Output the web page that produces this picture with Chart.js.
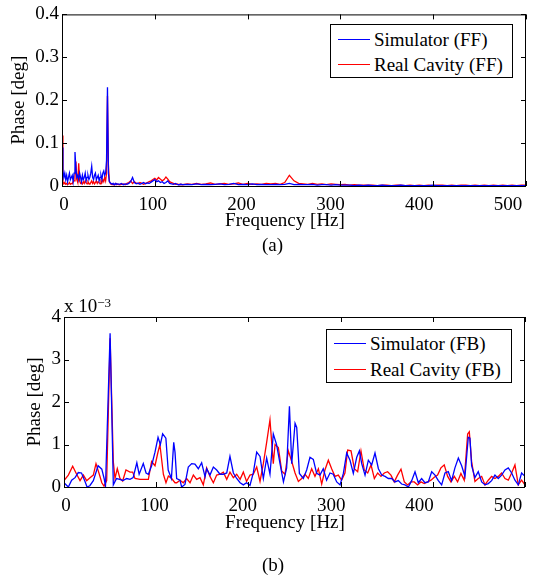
<!DOCTYPE html>
<html>
<head>
<meta charset="utf-8">
<script src="https://cdn.jsdelivr.net/npm/chart.js@4.4.0/dist/chart.umd.min.js"></script>
<style>
  body { margin: 0; background: #fff; font-family: 'Liberation Serif', 'Times New Roman', serif; color: #000; }
  #page { position: relative; width: 539px; height: 580px; overflow: hidden; }
  canvas { position: absolute; left: 0; }
  .caption { position: absolute; font-size: 19px; line-height: 22px; }
  .xtitle { position: absolute; left: 185px; width: 200px; text-align: center; font-size: 19px; line-height: 22px; }
  .legend { position: absolute; border: 1px solid #000; background: #fff; font-size: 19px; }
  .legend .row { position: absolute; left: 0; height: 22px; line-height: 22px; white-space: nowrap; }
  .legend .swatch { position: absolute; left: 7px; top: 10px; width: 32px; height: 1.3px; }
  .legend .label { position: absolute; left: 43px; top: 0; }
  .expo { position: absolute; font-size: 19px; line-height: 22px; white-space: nowrap; }
  .expo sup { font-size: 13px; position: relative; top: -3px; vertical-align: top; }
</style>
</head>
<body>
<div id="page">
  <canvas id="chartFF" width="539" height="232" style="top:0"></canvas>
  <canvas id="chartFB" width="539" height="232" style="top:300px"></canvas>

  <div class="legend" style="left:330px; top:24px; width:181px; height:52px;">
    <div class="row" style="top:4px"><span class="swatch" style="background:#0000ff"></span><span class="label">Simulator (FF)</span></div>
    <div class="row" style="top:29px"><span class="swatch" style="background:#ff0000"></span><span class="label">Real Cavity (FF)</span></div>
  </div>
  <div class="xtitle" style="top:209px;">Frequency [Hz]</div>
  <div class="caption" style="left:262px; top:234px;">(a)</div>

  <div class="expo" style="left:64px; top:295px;">x 10<sup>&minus;3</sup></div>
  <div class="legend" style="left:326px; top:329px; width:184px; height:52px;">
    <div class="row" style="top:3px"><span class="swatch" style="background:#0000ff"></span><span class="label">Simulator (FB)</span></div>
    <div class="row" style="top:29px"><span class="swatch" style="background:#ff0000"></span><span class="label">Real Cavity (FB)</span></div>
  </div>
  <div class="xtitle" style="top:511px;">Frequency [Hz]</div>
  <div class="caption" style="left:262px; top:554px;">(b)</div>
</div>

<script>
// --- (a) feed-forward phase spectrum ---
const freqFF = [
  0,1,2,3,4,5,6,7,8,9,10,11,12,13,14,15,16,17,18,19,20,21,22,23,24,25,26,27,28,29,
  30,31,32,33,34,35,36,37,38,39,40,41,42,43,44,45,46,47,48,49,50,51,52,53,54,55,56,57,58,59,60,
  62,64,66,68,70,72,74,76,78,80,82,84,86,88,90,92,94,96,98,100,102,104,106,108,110,112,114,116,118,120,
  122,124,126,128,130,
  135,140,145,150,155,160,165,170,175,180,185,190,195,200,205,210,215,220,225,230,235,240,245,250,255,
  260,265,270,275,280,285,290,295,300,305,310,315,320,325,330,335,340,345,350,355,360,365,370,375,380,
  385,390,395,400,405,410,415,420,425,430,435,440,445,450,455,460,465,470,475,480,485,490,495,500
];
const simFF = [
  0.09,0.035,0.02,0.03,0.015,0.025,0.01,0.02,0.03,0.015,
  0.02,0.025,0.01,0.03,0.079,0.04,0.02,0.025,0.015,0.03,
  0.02,0.01,0.025,0.015,0.02,0.03,0.012,0.02,0.025,0.015,
  0.02,0.03,0.046,0.02,0.015,0.025,0.03,0.015,0.02,0.025,
  0.012,0.02,0.025,0.015,0.03,0.035,0.025,0.03,0.06,0.23,
  0.03,0.01,0.008,0.005,0.006,0.004,0.005,0.003,0.006,0.004,
  0.005,
  0.004,0.006,0.003,0.005,0.004,0.006,0.01,0.02,0.008,0.005,
  0.007,0.004,0.006,0.008,0.005,0.007,0.006,0.009,0.012,0.015,
  0.01,0.012,0.008,0.01,0.006,0.008,0.012,0.006,0.005,0.004,
  0.006,0.004,0.003,0.004,0.003,
  0.004,0.003,0.005,0.003,0.004,0.003,0.004,0.005,0.003,0.004,
  0.006,0.003,0.004,0.003,0.005,0.003,0.004,0.003,0.003,0.004,
  0.003,0.004,0.006,0.003,0.004,0.003,0.003,0.004,0.002,0.003,
  0.003,0.002,0.003,0.002,0.002,0.002,0.001,0.002,0.001,0.002,
  0.001,0.001,0.002,0.001,0.001,0.001,0.002,0.001,0.001,0.001,
  0.001,0.001,0.001,0.002,0.001,0.001,0.001,0.001,0.001,0.001,
  0.001,0.001,0.001,0.001,0.001,0.001,0.001,0.001,0.001,0.001,
  0.001,0.001,0.001,0.001
];
const realFF = [
  0.118,0.01,0.005,0.008,0.004,0.006,0.003,0.005,0.008,0.004,
  0.006,0.005,0.01,0.012,0.02,0.057,0.015,0.008,0.053,0.012,
  0.006,0.008,0.005,0.01,0.006,0.012,0.008,0.005,0.01,0.006,
  0.004,0.008,0.012,0.006,0.01,0.005,0.008,0.012,0.006,0.01,
  0.008,0.005,0.012,0.008,0.015,0.01,0.02,0.012,0.03,0.21,
  0.05,0.012,0.006,0.004,0.003,0.005,0.003,0.004,0.006,0.003,
  0.004,
  0.003,0.004,0.005,0.003,0.006,0.008,0.012,0.006,0.01,0.007,
  0.005,0.008,0.006,0.004,0.006,0.008,0.01,0.012,0.015,0.018,
  0.014,0.02,0.016,0.012,0.015,0.021,0.016,0.01,0.008,0.006,
  0.004,0.005,0.003,0.004,0.003,
  0.005,0.004,0.006,0.004,0.005,0.007,0.004,0.005,0.006,0.004,
  0.005,0.007,0.004,0.006,0.004,0.005,0.004,0.006,0.005,0.006,
  0.004,0.008,0.025,0.012,0.006,0.005,0.004,0.006,0.004,0.005,
  0.003,0.005,0.004,0.003,0.004,0.002,0.003,0.002,0.002,0.002,
  0.002,0.001,0.002,0.002,0.001,0.002,0.002,0.001,0.002,0.001,
  0.002,0.001,0.002,0.001,0.002,0.002,0.001,0.002,0.001,0.002,
  0.002,0.001,0.002,0.001,0.002,0.001,0.002,0.001,0.002,0.001,
  0.002,0.001,0.002,0.002
];

// --- (b) feedback phase spectrum, values in units of 1e-3 deg ---
const simFreqFB = [
  0,4.7,8.3,12,15.5,19,22.8,25,28,31.8,37,41,43.5,45,50,53.5,57,60.5,64,68,
  71.6,75,79,81.5,86,89,91.5,95,98.7,102,104.5,107,110.5,113,116.5,119,120.4,122.2,125.8,127.6,
  131.2,134.8,138.5,142,145.7,149.3,153,154.7,158.3,162,165.6,169.2,172.8,176.5,180,183.7,187.3,191,194.5,198,
  201.7,205.3,209,212.6,216.2,219.8,223.4,227,230.5,234.3,238,241.5,244.5,247,250.6,252.4,255.3,259.6,263.2,266.8,
  270.4,274,277.6,281.2,284.8,288.5,292,295.8,299.4,303,306.6,310.2,313.8,317.5,320.4,322.9,326.5,330.1,333.7,337.3,
  341,344.6,348.2,351.8,355.4,359,362.6,366.2,369.8,373.5,377.1,380.7,384.3,387.9,391.5,395.1,398.8,402.4,406,409.6,
  413.2,416.8,420.4,424,427.7,431.3,434.9,438.5,440.3,442.1,445.7,449.3,453,456.6,460.2,463.8,467.4,471,474.6,478.3,
  481.9,485.5,489.1,492.7,496.3,500
];
const simFB = [
  0.1,0,0.16,0.22,0.34,0.33,0.13,0,0.03,0.15,0.5,0.42,0.2,0.02,3.62,0.05,0.2,0.18,0.15,0.2,
  0.18,0.22,0.57,0.3,0.55,0.33,0.3,0.5,0.82,1.17,1.0,1.25,1.15,0.4,0.2,1.05,0.82,0.2,0.16,0,
  0.06,0.47,0.55,0.54,0.43,0.57,0.24,0.43,0.28,0.47,0.4,0.3,0.3,0.33,0.72,0.33,0.2,0.1,0.05,0.1,
  0.04,0.33,0.82,0.72,0.2,0.68,0.3,1.25,1.0,0.55,0.12,0.45,1.9,0.55,1.5,1.4,0.32,0.2,0.4,0.7,
  0.65,0.32,0.28,0.43,0.16,0.33,0.3,0.12,0.05,0.32,0.8,0.63,0.32,0.7,0.85,0.55,0.28,0.63,0.52,0.8,
  0.43,0.28,0.25,0.2,0.2,0.12,0.15,0.07,0.05,0,0.15,0.36,0.1,0.2,0.1,0.12,0.36,0.28,0.15,0.05,
  0.33,0.36,0.15,0.45,0.68,0.5,0.25,1.17,1.15,0.5,0.22,0.36,0.12,0.05,0.08,0.15,0.28,0.2,0.28,0.4,
  0.45,0.33,0.16,0.05,0.33,0.25
];
const realFreqFB = [
  0,4.7,9.4,13.7,17.4,21,24.6,28.2,31.8,34.7,38.3,41,43.4,46.3,50,53.5,55.3,57.8,60.7,63.6,
  67.2,71.6,74.5,77,82.4,87.8,91.5,95,98.7,101.7,104,107.8,110.6,113.2,116.8,120.4,122.2,125.8,129.4,133,
  136.7,140.3,143.9,147.5,151.1,154.7,158.3,162,165.6,169.2,172.8,176.5,180,183.7,187.3,191,194.5,198,201.7,205.3,
  209,212.6,216.2,219.8,223.4,227,228.9,232.5,236.1,239.7,243.3,247,250.6,254.2,257.8,261.4,265,268.6,272.2,275.9,
  279.5,283,286.7,290.3,293.9,297.5,301.1,304.7,307.7,311.3,314.9,318.5,322.1,325.7,329.4,333,336.6,340.2,343.8,347.4,
  351,354.6,358.2,361.8,365.5,369.1,372.7,376.3,379.9,383.5,387.1,390.7,394.4,398,401.6,405.2,408.8,412.4,416.1,419.7,
  423.3,426.9,430.5,434.1,437.8,439.6,442.1,445.7,449.3,453,456.6,460.2,463.8,467.4,471,474.6,478.3,481.9,485.5,489.1,
  492.7,496.3,500
];
const realFB = [
  0.15,0.28,0.49,0.3,0.15,0.28,0.15,0.22,0.28,0.55,0.3,0.1,0.02,0.15,3.5,0.59,0.2,0.43,0.2,0.14,
  0.4,0.35,0.35,0.2,0.18,0.18,0.18,0.6,0.5,0.8,1.0,0.3,0.1,0.26,0.2,0.1,0.1,0.16,0.1,0.2,
  0.1,0.28,0.18,0.22,0.05,0.45,0.25,0.1,0.28,0.3,0.35,0.18,0.35,0.22,0.3,0.18,0.35,0.13,0.28,0.3,
  0.47,0.13,0.55,1.05,1.58,0.55,1.0,0.93,0.38,0.3,0.85,0.6,0.33,0.13,0.2,0.3,0.2,0.43,0.25,0.43,
  0.07,0.4,0.63,0.43,0.25,0.28,0.16,0.33,0.87,0.85,0.43,0.36,0.85,0.4,0.33,0.52,0.2,0.33,0.25,0.33,
  0.36,0.28,0.12,0.28,0.42,0.12,0.05,0.12,0.12,0.05,0.12,0.08,0.12,0.16,0.23,0.28,0.45,0.52,0.25,0.12,
  0.25,0.12,0.32,0.16,1.25,1.3,0.6,0.13,0.2,0.25,0.05,0.16,0.25,0.2,0.25,0.33,0.2,0.16,0.33,0.52,
  0.05,0.16,0.05
];

const xTicks = [0, 100, 200, 300, 400, 500];
const FONT = { family: "'Liberation Serif', 'Times New Roman', serif", size: 19 };

// box around the axes with inward tick marks on all four sides
const frameTicks = {
  id: 'frameTicks',
  afterDatasetsDraw(chart) {
    const { ctx, chartArea: a, scales: { x, y } } = chart;
    ctx.save();
    ctx.strokeStyle = '#000';
    ctx.lineWidth = 1;
    ctx.strokeRect(a.left + 0.5, a.top + 0.5, a.right - a.left - 1, a.bottom - a.top);
    ctx.beginPath();
    x.ticks.forEach(t => {
      const px = Math.round(x.getPixelForValue(t.value)) + 0.5;
      ctx.moveTo(px, a.bottom); ctx.lineTo(px, a.bottom - 5);
      ctx.moveTo(px, a.top); ctx.lineTo(px, a.top + 5);
    });
    y.ticks.forEach(t => {
      const py = Math.round(y.getPixelForValue(t.value)) + 0.5;
      ctx.moveTo(a.left, py); ctx.lineTo(a.left + 5, py);
      ctx.moveTo(a.right, py); ctx.lineTo(a.right - 5, py);
    });
    ctx.stroke();
    ctx.restore();
  }
};

function pairs(xs, ys) {
  return xs.map((f, i) => ({ x: f, y: ys[i] }));
}

// the printed figure sets its frequency labels a little tighter than the tick marks,
// so labels come from a second bottom axis with a slightly wider range
function makeChart(id, sim, real, yMax, pad, yWidth, xHeight, labelRange, yTitlePad) {
  const setTicks = s => { s.ticks = xTicks.map(v => ({ value: v })); };
  return new Chart(document.getElementById(id), {
    type: 'line',
    data: {
      datasets: [
        { label: 'Simulator', data: sim, borderColor: '#0000ff', borderWidth: 1.3, pointRadius: 0, tension: 0 },
        { label: 'Real Cavity', data: real, borderColor: '#ff0000', borderWidth: 1.3, pointRadius: 0, tension: 0 }
      ]
    },
    options: {
      responsive: false,
      animation: false,
      devicePixelRatio: 1,
      layout: { padding: pad },
      plugins: { legend: { display: false }, tooltip: { enabled: false } },
      scales: {
        x: {
          type: 'linear', min: 0, max: 500, position: 'bottom',
          afterBuildTicks: setTicks,
          afterFit: s => { s.height = 0; s.paddingLeft = 0; s.paddingRight = 0; },
          grid: { display: false, drawTicks: false },
          border: { display: false },
          ticks: { display: false }
        },
        xl: {
          type: 'linear', min: labelRange[0], max: labelRange[1], position: 'bottom',
          afterBuildTicks: setTicks,
          afterFit: s => { s.height = xHeight; s.paddingLeft = 0; s.paddingRight = 0; },
          grid: { display: false, drawTicks: false },
          border: { display: false },
          ticks: { color: '#000', font: FONT, padding: 8, maxRotation: 0 }
        },
        y: {
          min: 0, max: yMax,
          afterFit: s => { s.width = yWidth; },
          grid: { display: false, drawTicks: false },
          border: { display: false },
          ticks: { color: '#000', font: FONT, padding: 3, stepSize: yMax / 4 },
          title: { display: true, text: 'Phase [deg]', color: '#000', font: FONT, padding: { top: yTitlePad, bottom: 0 } }
        }
      }
    },
    plugins: [frameTicks]
  });
}

makeChart('chartFF', pairs(freqFF, simFF), pairs(freqFF, realFF), 0.4,
  { top: 13, right: 13, left: 0, bottom: 0 }, 62, 46, [-2.25, 520.3], 8);
makeChart('chartFB', pairs(simFreqFB, simFB), pairs(realFreqFB, realFB), 4,
  { top: 17, right: 14, left: 0, bottom: 0 }, 64, 45, [-2.26, 519.2], 24);
</script>
</body>
</html>
